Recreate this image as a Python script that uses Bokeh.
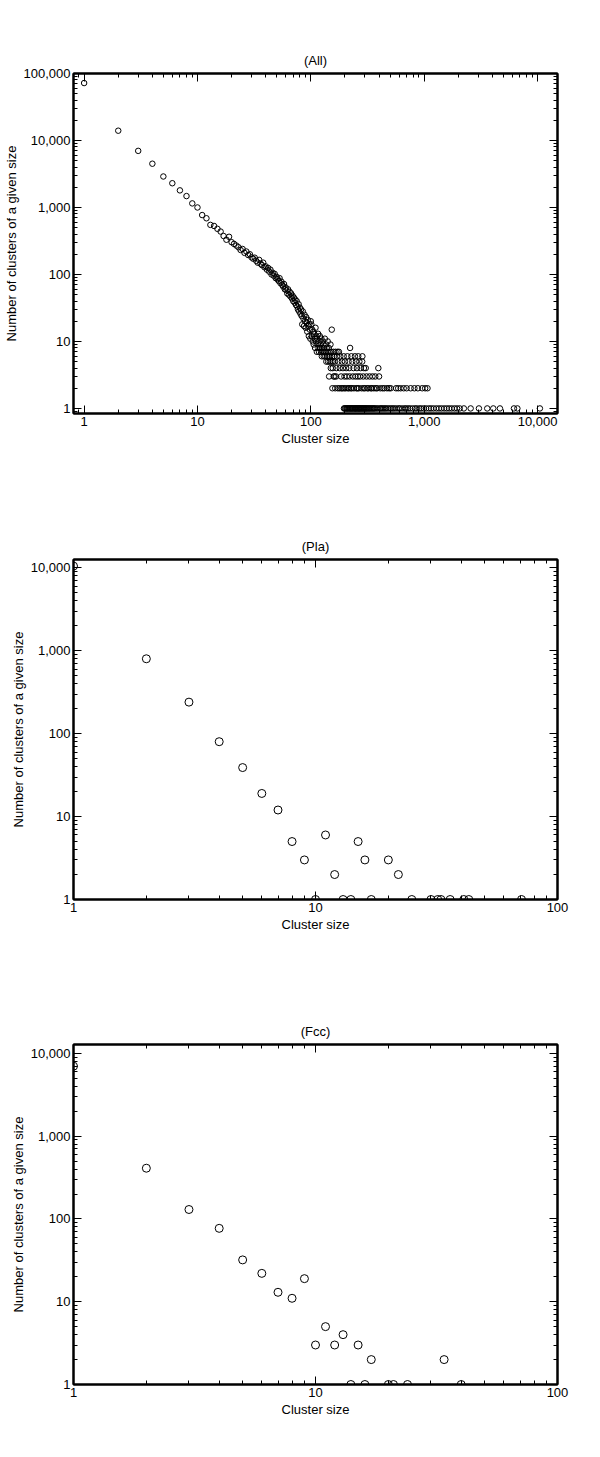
from bokeh.plotting import figure
from bokeh.models import (FixedTicker, NumeralTickFormatter, LogAxis, Range1d,
                          CustomJSTickFormatter)
from bokeh.layouts import column
from bokeh.embed import file_html
from bokeh.resources import INLINE

FONT = "Liberation Sans"

# ---------------- data: (All) ----------------
all_sizes_1_to_160 = list(range(1, 161))
all_counts_1_to_160 = [
    72000, 14000, 7000, 4500, 2900, 2300, 1800, 1480, 1150, 1000,
    770, 690, 550, 530, 480, 437, 375, 330, 365, 303,
    286, 270, 255, 232, 240, 210, 220, 195, 200, 180,
    172, 178, 160, 150, 165, 145, 138, 150, 128, 132,
    118, 125, 110, 118, 100, 106, 96, 102, 88, 92,
    85, 80, 88, 74, 78, 70, 66, 72, 60, 64,
    58, 52, 60, 50, 55, 47, 52, 44, 48, 40,
    45, 38, 42, 35, 40, 33, 30, 36, 28, 32,
    26, 30, 24, 18, 28, 22, 17, 25, 20, 16,
    23, 19, 14, 21, 17, 12, 18, 15, 11, 20,
    18, 12, 15, 10, 14, 9, 13, 11, 8, 16,
    10, 12, 7, 11, 9, 13, 8, 7, 10, 12,
    8, 9, 7, 11, 6, 8, 10, 7, 9, 6,
    8, 7, 11, 6, 7, 9, 5, 8, 6, 7,
    10, 5, 6, 8, 3, 7, 5, 6, 9, 4,
    7, 5, 15, 6, 2, 4, 5, 7, 3, 6,
]
all_sizes_count8 = [222]
all_sizes_count7 = [165, 172, 177]
all_sizes_count6 = [170, 182, 195, 210, 228, 245, 262, 285]
all_sizes_count5 = [163, 175, 188, 200, 215, 232, 250, 268, 284]
all_sizes_count4 = [168, 180, 192, 205, 218, 238, 255, 275, 294, 305, 394]
all_sizes_count3 = [162, 167, 185, 198, 208, 220, 235, 248, 260, 272, 290,
                    310, 330, 350, 370, 400]
all_sizes_count2 = [164, 173, 179, 186, 190, 197, 203, 212, 217, 225, 230,
                    240, 252, 258, 265, 280, 292, 300, 315, 322, 338, 345,
                    360, 375, 385, 410, 430, 445, 470, 490, 507, 565, 590,
                    620, 660, 700, 760, 820, 880, 960, 1020, 1070]
all_sizes_count1 = [196, 199, 202, 206, 209, 211, 214, 219, 221, 224, 227,
                    231, 233, 236, 242, 244, 247, 249, 253, 256, 261, 264,
                    267, 270, 274, 278, 282, 287, 289, 296, 298, 303, 308,
                    312, 318, 325, 328, 335, 342, 348, 355, 362, 368, 380,
                    390, 405, 415, 425, 438, 450, 462, 478, 495, 512, 530,
                    548, 570, 595, 610, 640, 670, 690, 720, 750, 790, 830,
                    860, 905, 940, 990, 1040, 1100, 1150, 1210, 1280, 1350,
                    1420, 1500, 1580, 1660, 1750, 1850, 1950, 2060, 2240,
                    2570, 3040, 3600, 4070, 4660, 6190, 6640, 10490]

# ---------------- data: (Pla) ----------------
pla_sizes = [1, 2, 3, 4, 5, 6, 7, 8, 9, 10, 11, 12, 13, 14, 15, 16, 17,
             20, 22, 25, 30, 32, 33, 36, 41, 43, 71]
pla_counts = [10500, 800, 240, 80, 39, 19, 12, 5, 3, 1, 6, 2, 1, 1, 5, 3, 1,
              3, 2, 1, 1, 1, 1, 1, 1, 1, 1]

# ---------------- data: (Fcc) ----------------
fcc_sizes = [1, 2, 3, 4, 5, 6, 7, 8, 9, 10, 11, 12, 13, 14, 15, 16, 17,
             20, 21, 24, 34, 40]
fcc_counts = [7000, 410, 130, 77, 32, 22, 13, 11, 19, 3, 5, 3, 4, 1, 3, 1, 2,
              1, 1, 1, 2, 1]

titles = ["(All)", "(Pla)", "(Fcc)"]
x_label = "Cluster size"
y_label = "Number of clusters of a given size"


def decade_minors(lo_exp, hi_exp):
    return [m * 10 ** e for e in range(lo_exp, hi_exp + 1) for m in range(2, 10)]


def style_axis(ax, show_labels):
    ax.axis_line_width = 2
    ax.axis_line_color = "black"
    ax.major_tick_in = 8
    ax.major_tick_out = 0
    ax.minor_tick_in = 4
    ax.minor_tick_out = 0
    ax.major_tick_line_color = "black"
    ax.minor_tick_line_color = "black"
    ax.major_tick_line_width = 1
    ax.minor_tick_line_width = 1
    if show_labels:
        ax.major_label_text_font = FONT
        ax.major_label_text_font_size = "13px"
        ax.major_label_text_color = "black"
        ax.major_label_standoff = 3
        ax.axis_label_text_font = FONT
        ax.axis_label_text_font_size = "13px"
        ax.axis_label_text_font_style = "normal"
        ax.axis_label_text_color = "black"
        ax.axis_label_standoff = 2
    else:
        ax.formatter = CustomJSTickFormatter(code="return '';")
        ax.major_label_text_font_size = "2px"
        ax.major_label_standoff = 0


def make_fig(title, xr, yr, xmaj, ymaj, xmin_exp, ymin_exp, height, bottom,
             xs, ys, msize):
    p = figure(width=590, height=height, x_axis_type="log", y_axis_type="log",
               x_range=Range1d(*xr), y_range=Range1d(*yr),
               output_backend="svg", toolbar_location=None, title=title,
               min_border_left=72, min_border_right=33,
               min_border_top=73, min_border_bottom=bottom)
    p.title.text_font = FONT
    p.title.text_font_size = "13px"
    p.title.text_font_style = "normal"
    p.title.text_color = "black"
    p.title.align = "center"
    p.title.standoff = 11
    p.grid.visible = False
    p.outline_line_color = "black"
    p.outline_line_width = 2
    p.background_fill_color = "white"
    p.border_fill_color = "white"

    fmt = NumeralTickFormatter(format="0,0")
    p.xaxis.ticker = FixedTicker(ticks=xmaj, minor_ticks=decade_minors(*xmin_exp))
    p.yaxis.ticker = FixedTicker(ticks=ymaj, minor_ticks=decade_minors(*ymin_exp))
    p.xaxis.formatter = fmt
    p.yaxis.formatter = fmt
    p.xaxis.axis_label = x_label
    p.yaxis.axis_label = y_label
    for ax in p.xaxis + p.yaxis:
        style_axis(ax, True)

    top_ax = LogAxis(ticker=FixedTicker(ticks=xmaj, minor_ticks=decade_minors(*xmin_exp)))
    right_ax = LogAxis(ticker=FixedTicker(ticks=ymaj, minor_ticks=decade_minors(*ymin_exp)))
    style_axis(top_ax, False)
    style_axis(right_ax, False)
    p.add_layout(top_ax, "above")
    p.add_layout(right_ax, "right")

    p.scatter(xs, ys, marker="circle", size=msize, fill_color=None,
              line_color="black", line_width=1)
    return p


all_x = (all_sizes_1_to_160 + all_sizes_count8 + all_sizes_count7 +
         all_sizes_count6 + all_sizes_count5 + all_sizes_count4 +
         all_sizes_count3 + all_sizes_count2 + all_sizes_count1)
all_y = (all_counts_1_to_160 + [8] * len(all_sizes_count8) +
         [7] * len(all_sizes_count7) + [6] * len(all_sizes_count6) +
         [5] * len(all_sizes_count5) + [4] * len(all_sizes_count4) +
         [3] * len(all_sizes_count3) + [2] * len(all_sizes_count2) +
         [1] * len(all_sizes_count1))

p1 = make_fig(titles[0], (0.806, 15000), (0.84, 100000),
              [1, 10, 100, 1000, 10000], [1, 10, 100, 1000, 10000, 100000],
              (-1, 4), (-1, 4), 486, 73, all_x, all_y, 5.5)
p2 = make_fig(titles[1], (1, 100), (1, 12600),
              [1, 10, 100], [1, 10, 100, 1000, 10000],
              (0, 1), (0, 4), 485, 72, pla_sizes, pla_counts, 8)
p3 = make_fig(titles[2], (1, 100), (1, 12800),
              [1, 10, 100], [1, 10, 100, 1000, 10000],
              (0, 1), (0, 4), 480, 67, fcc_sizes, fcc_counts, 8)

layout = column(p1, p2, p3, spacing=0)
open("out.html", "w").write(file_html(layout, INLINE))
